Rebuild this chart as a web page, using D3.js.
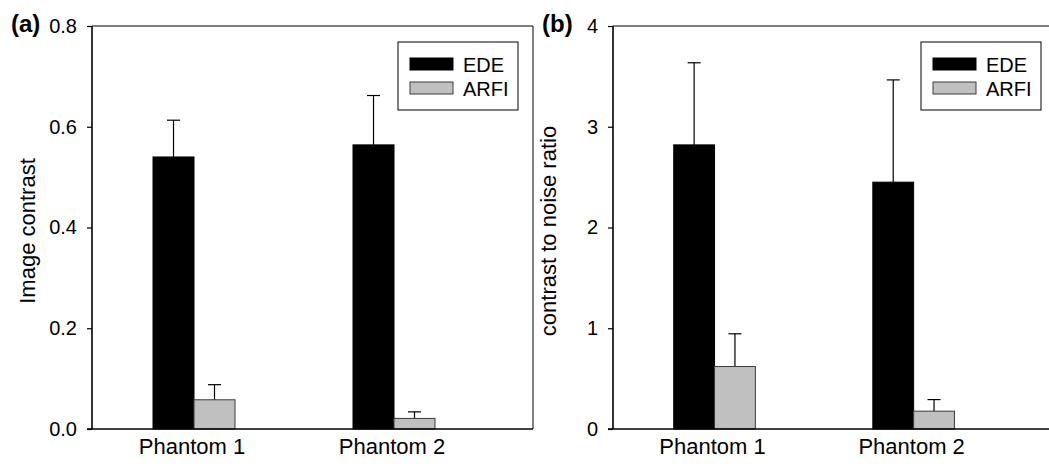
<!DOCTYPE html>
<html lang="en">
<head>
<meta charset="UTF-8">
<title>EDE vs ARFI</title>
<script src="https://cdn.jsdelivr.net/npm/d3@7"></script>
<style>
    body { margin: 0; background: #fff; }
    svg { display: block; font-family: "Liberation Sans", Arial, sans-serif; }
    .tick text { font-size: 20px; }
</style>
</head>
<body>
<svg width="1049" height="469"></svg>
<script>
    // data
    const categories = ["Phantom 1", "Phantom 2"];
    const series = ["EDE", "ARFI"];

    // panel (a) image contrast
    const contrastEDE = [0.540, 0.564];
    const contrastEDEerr = [0.073, 0.098];
    const contrastARFI = [0.058, 0.021];
    const contrastARFIerr = [0.030, 0.013];
    const contrastTicks = [0, 0.2, 0.4, 0.6, 0.8];

    // panel (b) contrast to noise ratio
    const cnrEDE = [2.82, 2.45];
    const cnrEDEerr = [0.815, 1.015];
    const cnrARFI = [0.62, 0.177];
    const cnrARFIerr = [0.325, 0.115];
    const cnrTicks = [0, 1, 2, 3, 4];

    const fills = {EDE: "#000000", ARFI: "#c0c0c0"};
    const strokes = {EDE: "#000000", ARFI: "#3a3a3a"};

    const svg = d3.select("svg");

    function drawPanel(opt) {
        const g = svg.append("g");
        const top = 26, bottom = 429;

        // x: category index, left/right padding like the original plot
        const x = d3.scaleLinear().domain([0.49, 2.695]).range([opt.left, opt.right]);
        const y = d3.scaleLinear().domain([0, opt.max]).range([bottom, top]);
        const bw = x(1.205) - x(1);

        // frame (top + right)
        g.append("path")
            .attr("d", `M${opt.left},${top}H${opt.right}V${bottom}`)
            .attr("fill", "none").attr("stroke", "#000").attr("stroke-width", 1);

        // bars
        const rows = [];
        categories.forEach(function (c, i) {
            rows.push({s: "EDE", i: i, v: opt.ede[i], e: opt.edeErr[i], x0: x(i + 1) - bw});
            rows.push({s: "ARFI", i: i, v: opt.arfi[i], e: opt.arfiErr[i], x0: x(i + 1)});
        });

        // error bars (upper only)
        const eb = g.append("g").selectAll("g").data(rows).enter().append("g");
        eb.append("line")
            .attr("x1", d => d.x0 + bw / 2).attr("x2", d => d.x0 + bw / 2)
            .attr("y1", d => y(d.v)).attr("y2", d => y(d.v + d.e))
            .attr("stroke", "#000").attr("stroke-width", 1.2);
        eb.append("line")
            .attr("x1", d => d.x0 + bw / 2 - 6.5).attr("x2", d => d.x0 + bw / 2 + 6.5)
            .attr("y1", d => y(d.v + d.e)).attr("y2", d => y(d.v + d.e))
            .attr("stroke", "#000").attr("stroke-width", 1.2);

        g.append("g").selectAll("rect").data(rows).enter().append("rect")
            .attr("x", d => d.x0)
            .attr("y", d => y(d.v))
            .attr("width", bw)
            .attr("height", d => y(0) - y(d.v))
            .attr("fill", d => fills[d.s])
            .attr("stroke", d => strokes[d.s])
            .attr("stroke-width", 1);

        // y axis
        const yAxis = g.append("g")
            .attr("transform", `translate(${opt.left},0)`)
            .call(d3.axisLeft(y).tickValues(opt.ticks).tickFormat(opt.fmt).tickSize(5).tickPadding(10));
        yAxis.attr("font-family", null).attr("font-size", null);
        yAxis.select(".domain").attr("stroke-width", 1.6).attr("d", `M0,${top}V${bottom}`);
        yAxis.selectAll(".tick line").attr("stroke-width", 1.2);
        yAxis.selectAll("text").attr("fill", "#000");

        // x axis line
        g.append("line")
            .attr("x1", opt.left - 5).attr("x2", opt.right)
            .attr("y1", bottom).attr("y2", bottom)
            .attr("stroke", "#000").attr("stroke-width", 1.4);

        // category labels
        g.append("g").selectAll("text").data(categories).enter().append("text")
            .attr("x", (d, i) => x(i + 1) - 2)
            .attr("y", 454)
            .attr("text-anchor", "middle")
            .attr("font-size", 22)
            .text(d => d);

        // y title
        g.append("text")
            .attr("transform", `translate(${opt.left - 57},231) rotate(-90)`)
            .attr("text-anchor", "middle")
            .attr("font-size", 22)
            .text(opt.title);

        // panel letter
        g.append("text")
            .attr("x", opt.left - opt.letterOff).attr("y", 32)
            .attr("font-size", 24).attr("font-weight", "bold")
            .text(opt.letter);

        // legend
        const lg = g.append("g").attr("transform", `translate(${opt.legX},42)`);
        lg.append("rect").attr("width", 120).attr("height", 68)
            .attr("fill", "#fff").attr("stroke", "#000").attr("stroke-width", 1);
        series.forEach(function (s, k) {
            lg.append("rect")
                .attr("x", 12).attr("y", 16 + k * 24)
                .attr("width", 43).attr("height", 12)
                .attr("fill", fills[s]).attr("stroke", strokes[s]).attr("stroke-width", 1);
            lg.append("text")
                .attr("x", 65).attr("y", 29.5 + k * 24)
                .attr("font-size", 20)
                .text(s);
        });
    }

    drawPanel({
        left: 92, right: 533, max: 0.8, ticks: contrastTicks, fmt: d3.format(".1f"),
        ede: contrastEDE, edeErr: contrastEDEerr, arfi: contrastARFI, arfiErr: contrastARFIerr,
        title: "Image contrast", letter: "(a)", letterOff: 81, legX: 398
    });

    drawPanel({
        left: 613, right: 1052, max: 4, ticks: cnrTicks, fmt: d3.format("d"),
        ede: cnrEDE, edeErr: cnrEDEerr, arfi: cnrARFI, arfiErr: cnrARFIerr,
        title: "contrast to noise ratio", letter: "(b)", letterOff: 71, legX: 921
    });
</script>
</body>
</html>
